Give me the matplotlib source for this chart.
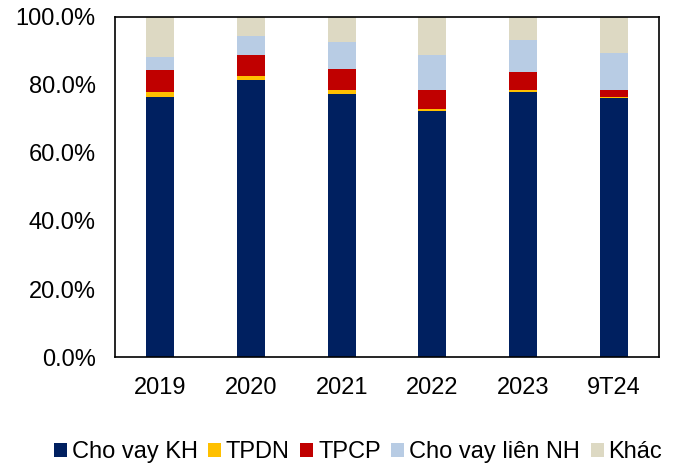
import matplotlib.pyplot as plt
import numpy as np

plt.rcParams['font.family'] = ['Liberation Sans', 'DejaVu Sans']

years = ['2019', '2020', '2021', '2022', '2023', '9T24']
series = ['Cho vay KH', 'TPDN', 'TPCP', 'Cho vay liên NH', 'Khác']
cho_vay_kh = [76.3, 81.5, 77.4, 72.4, 78.0, 76.2]
tpdn = [1.6, 1.2, 1.0, 0.6, 0.4, 0.3]
tpcp = [6.6, 6.0, 6.4, 5.5, 5.5, 2.1]
lien_nh = [3.6, 5.6, 7.7, 10.4, 9.3, 10.7]
khac = [11.9, 5.7, 7.5, 11.1, 6.8, 10.7]
colors = ['#002060', '#FFC000', '#C00000', '#B8CCE4', '#DDD9C3']

fig = plt.figure(figsize=(6.73, 4.68), dpi=100)
ax = fig.add_axes([0.171, 0.237, 0.808, 0.727])

x = np.arange(len(years))
bottom = np.zeros(len(years))
for name, vals, c in zip(series, [cho_vay_kh, tpdn, tpcp, lien_nh, khac], colors):
    ax.bar(x, vals, 0.31, bottom=bottom, color=c, label=name)
    bottom += np.array(vals)

ax.set_xlim(-0.5, len(years) - 0.5)
ax.set_ylim(0, 100)
ax.set_yticks(np.arange(0, 101, 20))
ax.set_yticklabels([f'{v:.1f}%' for v in np.arange(0, 101, 20)])
ax.set_xticks(x)
ax.set_xticklabels(years)
ax.tick_params(length=0, labelsize=17, pad=14)
for s in ax.spines.values():
    s.set_linewidth(1.2)
    s.set_color('black')

fig.legend(loc='lower center', bbox_to_anchor=(0.532, -0.035), ncol=5, frameon=False,
           fontsize=17, handlelength=0.55, handleheight=0.55, handletextpad=0.2,
           columnspacing=0.45)

fig.savefig('out.png', dpi=100)
